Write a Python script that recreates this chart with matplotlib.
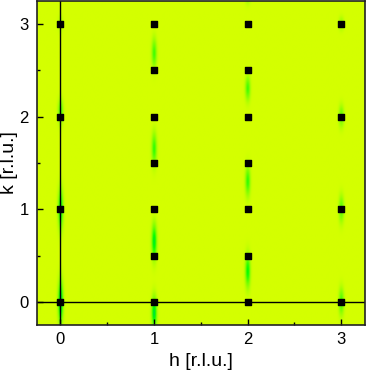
import numpy as np
import matplotlib
matplotlib.use('Agg')
import matplotlib.pyplot as plt
from matplotlib.colors import LinearSegmentedColormap

# Bragg-Punkte (h, k)
peak_h = [0, 0, 0, 0, 1, 1, 1, 1, 1, 1, 1, 2, 2, 2, 2, 2, 2, 2, 3, 3, 3, 3]
peak_k = [0, 1, 2, 3, 0, 0.5, 1, 1.5, 2, 2.5, 3, 0, 0.5, 1, 1.5, 2, 2.5, 3, 0, 1, 2, 3]

# diffuse Streifen entlang k: Position h, Mitte k, Breite in k, Intensitaet
streak_h = [0, 0, 0, 0, 1, 1, 1, 1, 2, 2, 2, 2, 3, 3, 3, 3]
streak_k = [0.0, 1.0, 2.05, 3.0, -0.12, 0.65, 1.65, 2.68, 0.33, 1.3, 2.3, 3.3, 0.0, 1.0, 2.0, 3.0]
streak_w = [0.16, 0.15, 0.09, 0.06, 0.12, 0.13, 0.12, 0.11, 0.12, 0.11, 0.09, 0.06, 0.1, 0.1, 0.08, 0.05]
streak_i = [1.0, 0.85, 0.6, 0.2, 0.95, 0.9, 0.65, 0.6, 0.8, 0.65, 0.6, 0.35, 0.6, 0.55, 0.5, 0.3]

# Farbskala gelbgruen -> gruen -> tuerkis
cmap = LinearSegmentedColormap.from_list('streaks', [
    (0.0, (212/255, 1.0, 0.0)),
    (0.45, (110/255, 1.0, 0.0)),
    (0.8, (0.0, 1.0, 0.0)),
    (1.0, (0.0, 0.82, 0.35)),
])

xs = np.linspace(-0.25, 3.25, 700)
ys = np.linspace(-0.25, 3.25, 700)
X, Y = np.meshgrid(xs, ys)
Z = np.zeros_like(X)
for h, k, w, a in zip(streak_h, streak_k, streak_w, streak_i):
    Z = np.maximum(Z, a * np.exp(-((X - h) / 0.019) ** 2 / 2) * np.exp(-((Y - k) / w) ** 2 / 2))

fig = plt.figure(figsize=(3.66, 3.74), dpi=100)
ax = fig.add_axes([0.101, 0.131, 0.895, 0.867])
ax.imshow(Z, extent=[-0.25, 3.25, -0.25, 3.25], origin='lower', cmap=cmap,
          vmin=0, vmax=1, aspect='auto', interpolation='bilinear')

ax.axvline(0, color='black', lw=1)
ax.axhline(0, color='black', lw=1)
ax.scatter(peak_h, peak_k, marker='s', s=14, color='black', zorder=3)

ax.set_xlim(-0.25, 3.25)
ax.set_ylim(-0.25, 3.25)
ax.set_xticks([0, 1, 2, 3])
ax.set_yticks([0, 1, 2, 3])
ax.set_xticks([0.5, 1.5, 2.5], minor=True)
ax.set_yticks([0.5, 1.5, 2.5], minor=True)
ax.tick_params(direction='in', length=4, width=1, labelsize=12)
ax.tick_params(axis='x', pad=5)
ax.tick_params(axis='y', pad=6)
ax.tick_params(which='minor', direction='in', length=2.5, width=1)
for lab in ax.get_xticklabels() + ax.get_yticklabels():
    lab.set_family('Liberation Sans')
for s in ax.spines.values():
    s.set_color('#222222')
    s.set_linewidth(1.2)

ax.set_xlabel('h [r.l.u.]', fontsize=14, family='Liberation Sans', labelpad=4)
ax.set_ylabel('k [r.l.u.]', fontsize=14, family='Liberation Sans', labelpad=1)

plt.savefig('out.png', dpi=100)
